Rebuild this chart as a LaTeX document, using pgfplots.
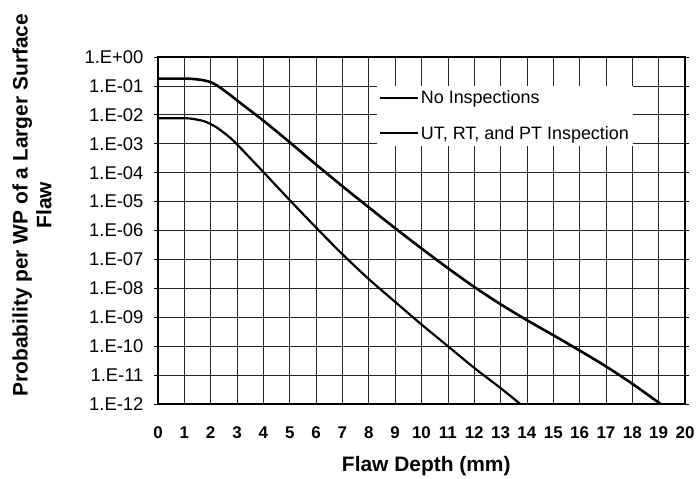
\documentclass[border=0pt]{standalone}
\usepackage{pgfplots}
\pgfplotsset{compat=1.18}
\usepackage{fontspec}
\setmainfont{Liberation Sans}
\begin{document}
\begin{tikzpicture}
\useasboundingbox (0,0) rectangle (698bp,479bp);
\begin{axis}[
  at={(158bp,75bp)}, anchor=south west,
  scale only axis, width=527bp, height=347bp,
  xmin=0, xmax=20, ymode=log, ymin=1e-12, ymax=1,
  xtick={0,1,2,3,4,5,6,7,8,9,10,11,12,13,14,15,16,17,18,19,20},
  xticklabels={0,1,2,3,4,5,6,7,8,9,10,11,12,13,14,15,16,17,18,19,20},
  ytick={1e-12,1e-11,1e-10,1e-9,1e-8,1e-7,1e-6,1e-5,1e-4,1e-3,1e-2,1e-1,1},
  yticklabels={1.E-12,1.E-11,1.E-10,1.E-09,1.E-08,1.E-07,1.E-06,1.E-05,1.E-04,1.E-03,1.E-02,1.E-01,1.E+00},
  yminorticks=false,
  tick align=outside, major tick length=4bp,
  xtick style={draw=none},
  ytick style={black, line width=0.8bp},
  axis line style={black, line width=1.5bp},
  grid=major, major grid style={black!85, line width=0.7bp},
  xticklabel style={font=\fontsize{17}{19}\selectfont\bfseries, yshift=-15bp},
  yticklabel style={font=\fontsize{18.5}{20}\selectfont, xshift=-7bp},
  xlabel={Flaw Depth (mm)},
  xlabel style={font=\fontsize{21}{24}\selectfont\bfseries, at={(axis description cs:0.509,-0.18)}, anchor=center},
  ylabel={Probability per WP of a Larger Surface\\Flaw},
  ylabel style={font=\fontsize{21}{24}\selectfont\bfseries, align=center, at={(axis description cs:-0.239,0.573)}, anchor=center},
  legend style={at={(rel axis cs:0.415,0.918)}, anchor=north west, draw=none, fill=white,
    font=\fontsize{18}{20}\selectfont, row sep=17bp, inner xsep=2bp, inner ysep=3bp},
  legend cell align=left,
  legend image code/.code={\draw[#1, line width=2bp] (0bp,0bp) -- (38bp,0bp);},
]
\addplot[black, line width=2.6bp, smooth, tension=0.5] coordinates {
 (0,0.178) (1,0.178) (1.25,0.176) (1.5,0.168) (1.75,0.155) (2,0.135) (2.25,0.102)
 (2.5,0.0708) (2.75,0.0479) (3,0.0316) (3.5,0.0141)
 (4,6.31e-3) (5,1.12e-3) (6,1.91e-4) (7,3.39e-5) (8,6.31e-6) (9,1.20e-6)
 (10,2.40e-7) (11,5.01e-8) (12,1.12e-8) (13,2.82e-9) (14,7.94e-10) (15,2.40e-10)
 (16,7.08e-11) (17,2.0e-11) (18,5.01e-12) (19,1.12e-12) (19.08,1e-12)
};
\addlegendentry{No Inspections}
\addplot[black, line width=2.2bp, smooth, tension=0.5] coordinates {
 (0,7.6e-3) (1,7.6e-3) (1.25,7.41e-3) (1.5,6.76e-3) (1.75,6.03e-3) (2,4.79e-3)
 (2.25,3.55e-3) (2.5,2.4e-3) (2.75,1.58e-3) (3,9.55e-4) (3.5,3.16e-4)
 (4,1.05e-4) (5,1.12e-5) (6,1.26e-6) (7,1.51e-7) (8,2.09e-8) (9,3.39e-9)
 (10,5.62e-10) (11,1e-10) (12,1.78e-11) (13,3.55e-12) (13.75,1e-12)
};
\addlegendentry{UT, RT, and PT Inspection}
\end{axis}
\end{tikzpicture}
\end{document}
